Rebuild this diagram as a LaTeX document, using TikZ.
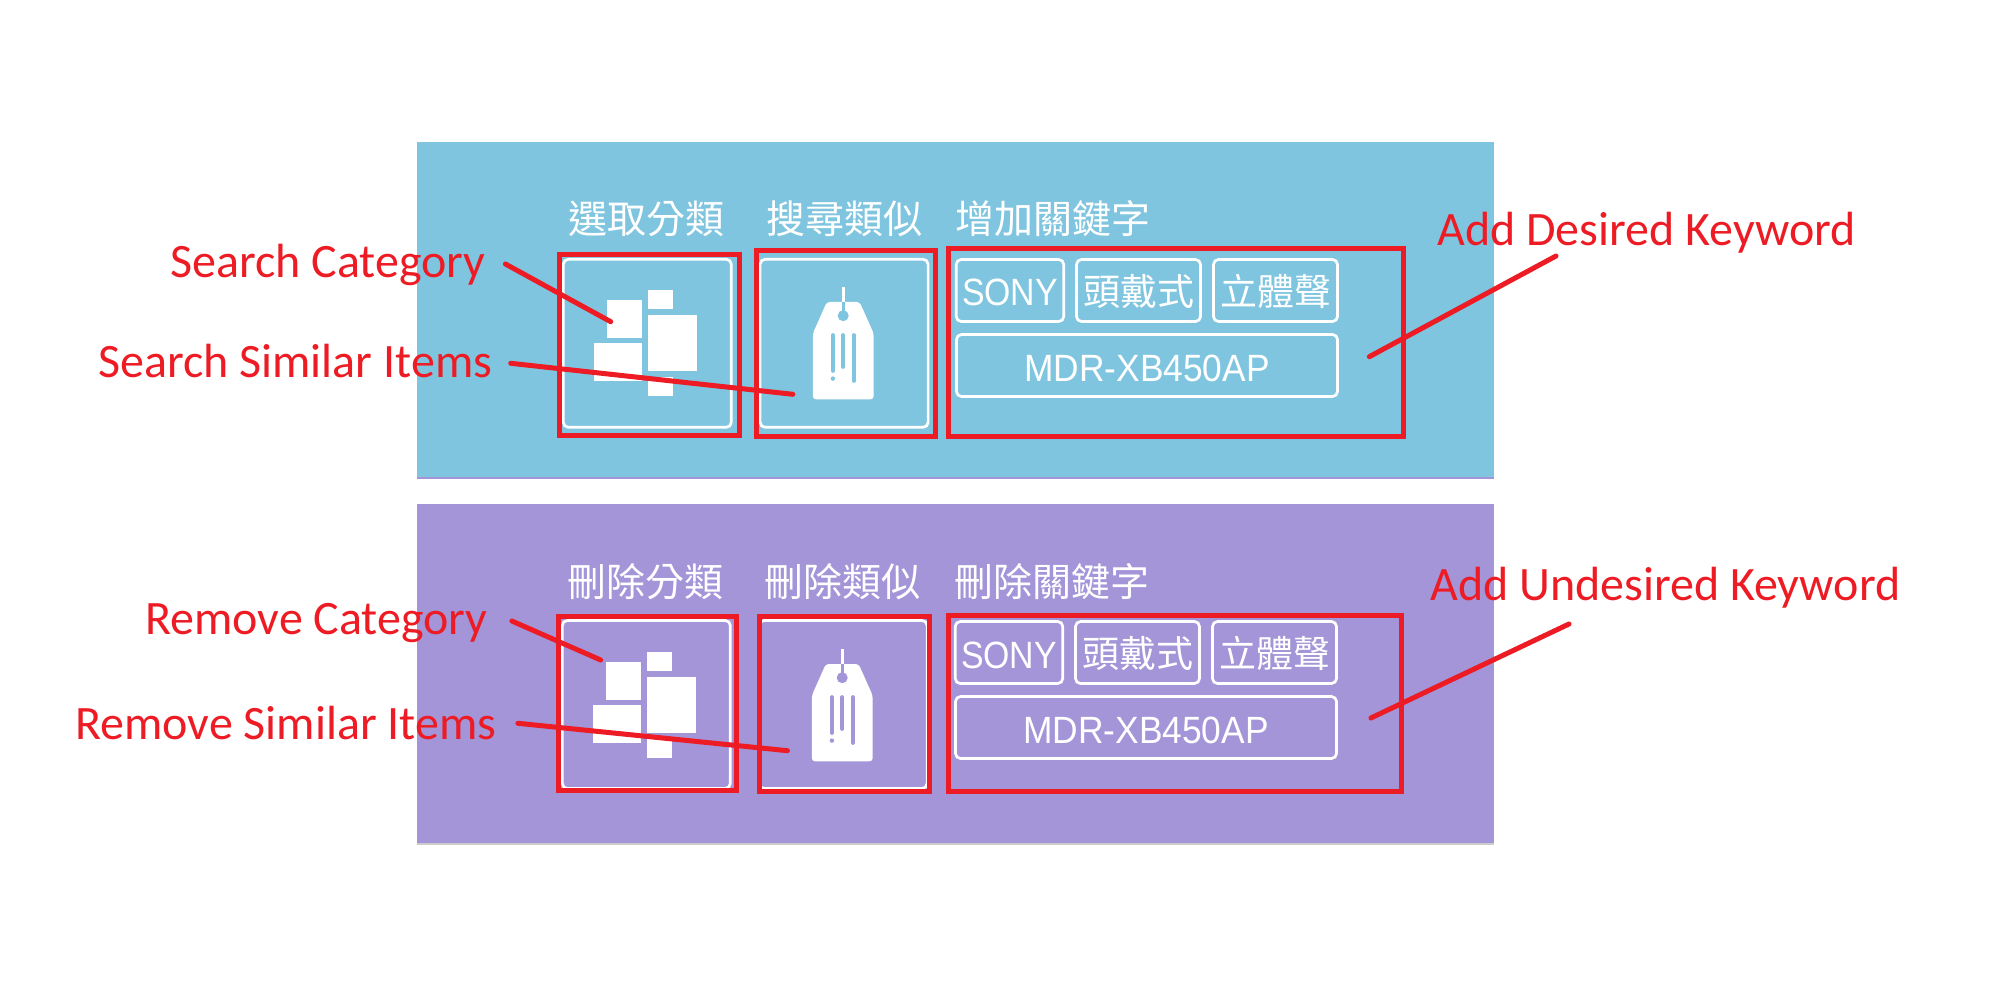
\documentclass[tikz,border=0pt]{standalone}
\usepackage{fontspec}
\setmainfont{Carlito}
\newfontfamily\headfont{Noto Sans CJK TC}
\newfontfamily\taglatin[FakeStretch=0.89]{Liberation Sans}
\newfontfamily\modellatin[FakeStretch=0.93]{Liberation Sans}
\definecolor{panelblue}{HTML}{7FC5DF}
\definecolor{panelpurple}{HTML}{A395D8}
\definecolor{markred}{HTML}{ED1C24}
\tikzset{
  panelbox/.style={anchor=north west,inner sep=0pt,minimum width=1076.7pt},
  iconbox/.style={draw=white,line width=2.7pt,rounded corners=5pt,inner sep=0pt,minimum width=168pt,minimum height=168pt},
  keybox/.style={draw=white,line width=2.7pt,rounded corners=5pt,inner sep=0pt,minimum height=62pt,text=white},
  markbox/.style={draw=markred,line width=5.2pt,inner sep=0pt},
  pointer/.style={draw=markred,line width=5pt,line cap=round},
  headlabel/.style={anchor=base west,inner sep=0pt,text=white,font=\headfont\fontsize{39}{42}\selectfont},
  redlabel/.style={anchor=base west,inner sep=0pt,text=markred,font=\fontsize{48}{52}\selectfont},
  latintag/.style={text height=31pt,text depth=0pt,font=\taglatin\fontsize{38}{40}\selectfont},
  modeltag/.style={text height=31pt,text depth=0pt,font=\modellatin\fontsize{38}{40}\selectfont},
  cjktag/.style={text height=34pt,text depth=4.4pt,font=\headfont\fontsize{37}{40}\selectfont},
}
\newcommand{\categoryicon}[1]{
\begin{scope}[shift={#1}]
\fill[white] (648.2,290) rectangle (673.2,309);
\fill[white] (607.1,299.7) rectangle (642.1,338);
\fill[white] (593.6,343) rectangle (642.1,381.3);
\fill[white] (648.2,315) rectangle (697.1,371);
\fill[white] (648.2,377) rectangle (673.2,396);
\end{scope}
}
\newcommand{\tagicon}[2]{
\begin{scope}[shift={#1}]
\fill[white,rounded corners=3pt] (812.9,399.3) -- (812.9,333.3) -- (826.8,302) -- (859.6,302) -- (873.6,333.3) -- (873.6,399.3) -- cycle;
\draw[white,line width=3pt] (843.2,287.3) -- (843.2,302);
\draw[#2,line width=3pt] (843.2,302) -- (843.2,315);
\fill[#2] (843.2,315.7) circle (5.5);
\draw[#2,line width=3.7pt,line cap=round] (832.9,335) -- (832.9,371);
\draw[#2,line width=3.7pt,line cap=round] (843.2,335) -- (843.2,367);
\draw[#2,line width=3.7pt,line cap=round] (853.9,335) -- (853.9,381);
\fill[#2] (832.9,378.6) circle (2.2);
\end{scope}
}

\begin{document}
\begin{tikzpicture}[x=1pt,y=-1pt]
\useasboundingbox (0,0) rectangle (2000,1000);

\fill[panelpurple] (417,476) rectangle (1493.7,479);
\fill[black!20] (417,842) rectangle (1493.7,845);
\node[panelbox,fill=panelblue,minimum height=335pt] (searchPanel) at (417,142) {};
\node[panelbox,fill=panelpurple,minimum height=339pt] (removePanel) at (417,504) {};

\node[headlabel] (headSearchCat) at (568.5,234) {選取分類};
\node[headlabel] (headSearchSim) at (766,234) {搜尋類似};
\node[headlabel] (headAddKey) at (955.5,234) {增加關鍵字};
\node[headlabel] (headRemoveCat) at (567.5,596) {刪除分類};
\node[headlabel] (headRemoveSim) at (764.3,596) {刪除類似};
\node[headlabel] (headRemoveKey) at (953.8,596) {刪除關鍵字};

\node[iconbox] (boxSearchCat) at (647.3,343.3) {};
\node[iconbox] (boxSearchSim) at (844.1,343.3) {};
\node[iconbox] (boxRemoveCat) at (646.3,704.5) {};
\node[iconbox] (boxRemoveSim) at (843.1,704.5) {};

\categoryicon{(0,0)}
\categoryicon{(-1,362)}
\tagicon{(0,0)}{panelblue}
\tagicon{(-1,362)}{panelpurple}

\node[keybox,latintag,minimum width=107.5pt] (keySony) at (1010,290.5) {SONY};
\node[keybox,cjktag,minimum width=124pt] (keyHead) at (1138.5,290.5) {頭戴式};
\node[keybox,cjktag,minimum width=124pt] (keyStereo) at (1275.5,290.5) {立體聲};
\node[keybox,modeltag,minimum width=381pt] (keyModel) at (1147,365.5) {MDR-XB450AP};
\node[keybox,latintag,minimum width=107.5pt] (rmSony) at (1009,652.5) {SONY};
\node[keybox,cjktag,minimum width=124pt] (rmHead) at (1137.5,652.5) {頭戴式};
\node[keybox,cjktag,minimum width=124pt] (rmStereo) at (1274.5,652.5) {立體聲};
\node[keybox,modeltag,minimum width=381pt] (rmModel) at (1146,727.5) {MDR-XB450AP};

\node[markbox,minimum width=180pt,minimum height=181.2pt] (markSearchCat) at (649.6,344.9) {};
\node[markbox,minimum width=179pt,minimum height=186.1pt] (markSearchSim) at (845.9,343.4) {};
\node[markbox,minimum width=455pt,minimum height=187.8pt] (markAddKey) at (1176,342.5) {};
\node[markbox,minimum width=177.8pt,minimum height=174.6pt] (markRemoveCat) at (647.5,703.5) {};
\node[markbox,minimum width=170pt,minimum height=175.5pt] (markRemoveSim) at (844.6,704) {};
\node[markbox,minimum width=453pt,minimum height=176.4pt] (markRemoveKey) at (1175.2,703.5) {};

\node[redlabel] (lblSearchCat) at (170,277.5) {Search Category};
\node[redlabel] (lblSearchSim) at (98,377) {Search Similar Items};
\node[redlabel] (lblAddKey) at (1437,245.3) {Add Desired Keyword};
\node[redlabel] (lblRemoveCat) at (145,634) {Remove Category};
\node[redlabel] (lblRemoveSim) at (75,739) {Remove Similar Items};
\node[redlabel] (lblRemoveKey) at (1430,600) {Add Undesired Keyword};

\coordinate (fromSearchCat) at (505.4,264);
\coordinate (toSearchCat) at (610.7,321.7);
\coordinate (fromSearchSim) at (510.7,363.3);
\coordinate (toSearchSim) at (792.9,394.3);
\coordinate (fromAddKey) at (1556,256);
\coordinate (toAddKey) at (1369.3,356.7);
\coordinate (fromRemoveCat) at (511.8,621);
\coordinate (toRemoveCat) at (600.7,660);
\coordinate (fromRemoveSim) at (517.9,723.3);
\coordinate (toRemoveSim) at (787.5,750.7);
\coordinate (fromRemoveKey) at (1569,624);
\coordinate (toRemoveKey) at (1370.9,718);

\draw[pointer] (fromSearchCat) -- (toSearchCat);
\draw[pointer] (fromSearchSim) -- (toSearchSim);
\draw[pointer] (fromAddKey) -- (toAddKey);
\draw[pointer] (fromRemoveCat) -- (toRemoveCat);
\draw[pointer] (fromRemoveSim) -- (toRemoveSim);
\draw[pointer] (fromRemoveKey) -- (toRemoveKey);
\end{tikzpicture}
\end{document}
